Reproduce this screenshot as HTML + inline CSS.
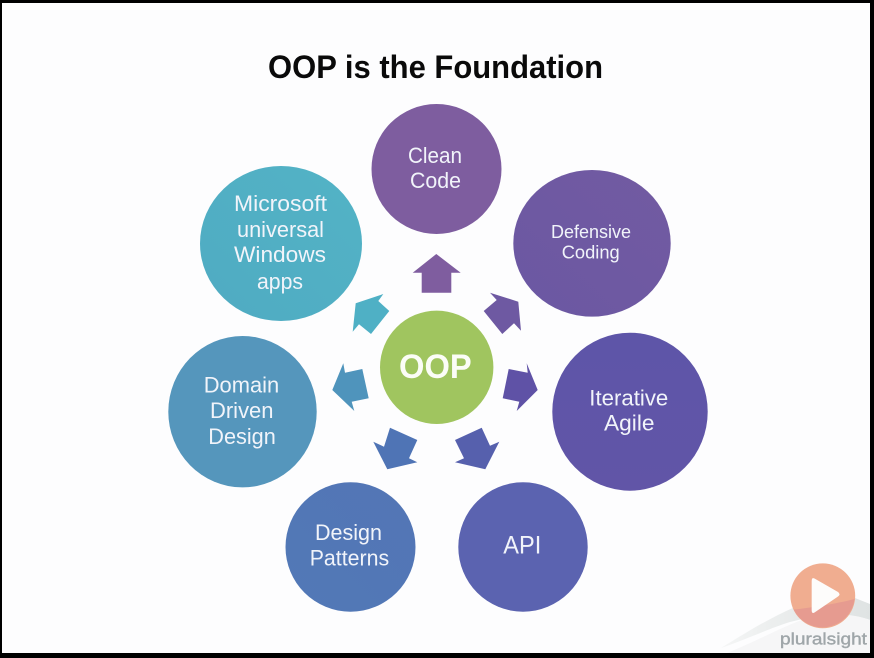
<!DOCTYPE html>
<html lang="en">
<head>
<meta charset="utf-8">
<title>OOP is the Foundation</title>
<style>
html,body{margin:0;padding:0;width:874px;height:658px;overflow:hidden;background:#000}
svg{display:block}
text{font-family:"Liberation Sans",sans-serif;fill:#f1f4fa;text-anchor:start}
</style>
</head>
<body>
<svg width="874" height="658" viewBox="0 0 874 658" xmlns="http://www.w3.org/2000/svg">
<defs>
<linearGradient id="g2" x1="1" x2="0" y1="0" y2="1"><stop offset="0" stop-color="#725aa1"/><stop offset="1" stop-color="#6b58a3"/></linearGradient>
<linearGradient id="g3" x1="0" x2="0" y1="0" y2="1"><stop offset="0" stop-color="#5e55a8"/><stop offset="1" stop-color="#6155a7"/></linearGradient>
<linearGradient id="g5" x1="1" x2="0" y1="0" y2="1"><stop offset="0" stop-color="#5375b5"/><stop offset="1" stop-color="#5279b7"/></linearGradient>
<linearGradient id="g7" x1="0" x2="1" y1="1" y2="0"><stop offset="0" stop-color="#4fabc2"/><stop offset="1" stop-color="#53b3c6"/></linearGradient>
<linearGradient id="sw" x1="0" x2="1" y1="0" y2="0"><stop offset="0" stop-color="#f5f6f6"/><stop offset="0.5" stop-color="#e8ebeb"/><stop offset="1" stop-color="#dfe3e3"/></linearGradient>
</defs>

<rect x="2" y="3" width="868" height="650" fill="#fdfdfe"/>

<!-- logo swoosh -->
<path d="M721 648 C750 630 770 618 795 607 C815 598 840 594 855 598 L870 604 L870 620 C850 612 815 615 790 622 C770 628 745 640 721 648 Z" fill="url(#sw)"/>
<path d="M727 653 C760 640 790 622 815 616 C840 612 860 616 870 620 L870 653 Z" fill="#f6f6f7"/>

<!-- title -->
<text x="268" y="78" font-size="32" font-weight="700" textLength="335" lengthAdjust="spacingAndGlyphs" style="fill:#0a0a0a">OOP is the Foundation</text>

<!-- circles -->
<ellipse cx="436.5" cy="169" rx="65" ry="65" fill="#7e5d9f"/>
<ellipse cx="592" cy="243.3" rx="78.7" ry="73.3" fill="url(#g2)"/>
<ellipse cx="630" cy="411.7" rx="77.7" ry="79" fill="url(#g3)"/>
<ellipse cx="523" cy="547" rx="64.7" ry="64.7" fill="#5b63b0"/>
<ellipse cx="350.5" cy="547" rx="65" ry="64.7" fill="url(#g5)"/>
<ellipse cx="242.5" cy="411.7" rx="74.2" ry="75.7" fill="#5596bc"/>
<ellipse cx="281" cy="243.5" rx="81" ry="77.5" fill="url(#g7)"/>
<circle cx="436.7" cy="367.3" r="56.7" fill="#a0c55f"/>

<!-- arrows -->
<polygon points="436.3,254 460.7,272.7 451.3,272.7 451.3,292.7 421.7,292.7 421.7,272.7 412.7,272.7" fill="#7f5d9f"/>
<polygon points="490,292.7 518.3,301.7 521,330.7 514,323.3 502.3,334 483.7,311 496.7,300" fill="#6e59a2"/>
<polygon points="526.7,363.3 537.7,390 516.7,411 519.3,401.7 502.7,398.3 508.7,369 527.7,372.7" fill="#5f52a6"/>
<polygon points="481.7,427.7 490,445.7 499.3,441.7 485.3,469.3 455,462.3 464,458.3 455,440" fill="#5660ad"/>
<polygon points="390,427.7 417.3,440 409,458.3 417.3,462.3 387.3,469.3 373.3,441.7 384,446.7" fill="#4f74b5"/>
<polygon points="343.3,363.3 345,372.7 362.3,369 368.7,398.3 351.7,401.7 354.3,411 332.3,390" fill="#4f94bc"/>
<polygon points="383.3,294 378.3,301 389.3,311 371,334 359,324.3 352.7,331.7 355.7,303.3" fill="#4fb0c5"/>

<!-- labels -->
<text x="408" y="163" font-size="22.5" textLength="54" lengthAdjust="spacingAndGlyphs">Clean</text>
<text x="410" y="188" font-size="22.5" textLength="51" lengthAdjust="spacingAndGlyphs">Code</text>

<text x="551" y="238" font-size="18.5" textLength="80" lengthAdjust="spacingAndGlyphs">Defensive</text>
<text x="561.7" y="258.7" font-size="18.5" textLength="58" lengthAdjust="spacingAndGlyphs">Coding</text>

<text x="589.3" y="405.3" font-size="22.5" textLength="79" lengthAdjust="spacingAndGlyphs">Iterative</text>
<text x="604" y="430.7" font-size="22.5" textLength="50.5" lengthAdjust="spacingAndGlyphs">Agile</text>

<text x="503.3" y="553.3" font-size="25" textLength="38" lengthAdjust="spacingAndGlyphs">API</text>

<text x="315" y="540" font-size="22" textLength="67" lengthAdjust="spacingAndGlyphs">Design</text>
<text x="309.7" y="565.3" font-size="22" textLength="79.5" lengthAdjust="spacingAndGlyphs">Patterns</text>

<text x="203.7" y="392.7" font-size="22" textLength="75.5" lengthAdjust="spacingAndGlyphs">Domain</text>
<text x="210" y="418" font-size="22" textLength="63.5" lengthAdjust="spacingAndGlyphs">Driven</text>
<text x="208.3" y="444" font-size="22" textLength="67.5" lengthAdjust="spacingAndGlyphs">Design</text>

<text x="234" y="211" font-size="22.5" textLength="93" lengthAdjust="spacingAndGlyphs">Microsoft</text>
<text x="237" y="237" font-size="22.5" textLength="87" lengthAdjust="spacingAndGlyphs">universal</text>
<text x="234" y="262" font-size="22.5" textLength="92" lengthAdjust="spacingAndGlyphs">Windows</text>
<text x="257" y="289" font-size="22.5" textLength="46" lengthAdjust="spacingAndGlyphs">apps</text>

<text x="399" y="378" font-size="34" font-weight="700" textLength="72.7" lengthAdjust="spacingAndGlyphs" style="fill:#fbfdf6">OOP</text>

<!-- pluralsight logo -->
<circle cx="822.8" cy="595.8" r="32.4" fill="#f0ad90"/>
<path d="M793.5 609.5 C810 608 835 604 854.6 599 A32.4 32.4 0 0 1 793.5 609.5 Z" fill="#e69b90"/>
<path d="M814.5 578.5 L838 592 Q841 594.3 838 596.5 L814.5 612.5 Q811.7 614 811.7 610.5 L811.7 581 Q811.7 577 814.5 578.5 Z" fill="#fdfcfb"/>
<text x="780" y="644.3" font-size="17" textLength="87" lengthAdjust="spacingAndGlyphs" style="fill:#9fa6a9;stroke:#9fa6a9;stroke-width:0.4">pluralsight</text>
</svg>
</body>
</html>
